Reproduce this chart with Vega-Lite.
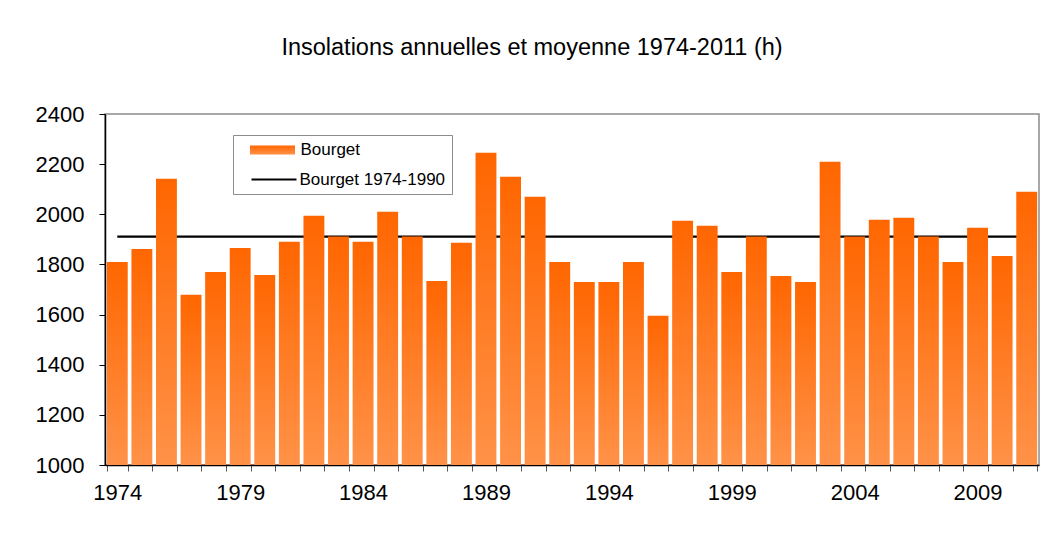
{
  "$schema": "https://vega.github.io/schema/vega-lite/v6.json",
  "width": 934,
  "height": 351,
  "autosize": "none",
  "padding": {"left": 105, "top": 114, "right": 14, "bottom": 69},
  "background": "white",
  "title": {
    "text": "Insolations annuelles et moyenne 1974-2011 (h)",
    "font": "Liberation Sans",
    "fontSize": 23.5,
    "fontWeight": "normal",
    "color": "black",
    "anchor": "middle",
    "dx": -40,
    "offset": 44
  },
  "config": {
    "view": {"stroke": "#8c8c8c", "strokeWidth": 1.5},
    "font": "Liberation Sans"
  },
  "data": {
    "values": [
      {"annee": 1974, "insolation": 1810, "moyenne": 1911},
      {"annee": 1975, "insolation": 1862, "moyenne": 1911},
      {"annee": 1976, "insolation": 2142, "moyenne": 1911},
      {"annee": 1977, "insolation": 1679, "moyenne": 1911},
      {"annee": 1978, "insolation": 1770, "moyenne": 1911},
      {"annee": 1979, "insolation": 1866, "moyenne": 1911},
      {"annee": 1980, "insolation": 1758, "moyenne": 1911},
      {"annee": 1981, "insolation": 1890, "moyenne": 1911},
      {"annee": 1982, "insolation": 1994, "moyenne": 1911},
      {"annee": 1983, "insolation": 1911, "moyenne": 1911},
      {"annee": 1984, "insolation": 1890, "moyenne": 1911},
      {"annee": 1985, "insolation": 2010, "moyenne": 1911},
      {"annee": 1986, "insolation": 1911, "moyenne": 1911},
      {"annee": 1987, "insolation": 1734, "moyenne": 1911},
      {"annee": 1988, "insolation": 1886, "moyenne": 1911},
      {"annee": 1989, "insolation": 2245, "moyenne": 1911},
      {"annee": 1990, "insolation": 2150, "moyenne": 1911},
      {"annee": 1991, "insolation": 2070, "moyenne": 1911},
      {"annee": 1992, "insolation": 1810, "moyenne": 1911},
      {"annee": 1993, "insolation": 1730, "moyenne": 1911},
      {"annee": 1994, "insolation": 1730, "moyenne": 1911},
      {"annee": 1995, "insolation": 1810, "moyenne": 1911},
      {"annee": 1996, "insolation": 1595, "moyenne": 1911},
      {"annee": 1997, "insolation": 1974, "moyenne": 1911},
      {"annee": 1998, "insolation": 1954, "moyenne": 1911},
      {"annee": 1999, "insolation": 1770, "moyenne": 1911},
      {"annee": 2000, "insolation": 1911, "moyenne": 1911},
      {"annee": 2001, "insolation": 1754, "moyenne": 1911},
      {"annee": 2002, "insolation": 1730, "moyenne": 1911},
      {"annee": 2003, "insolation": 2210, "moyenne": 1911},
      {"annee": 2004, "insolation": 1911, "moyenne": 1911},
      {"annee": 2005, "insolation": 1978, "moyenne": 1911},
      {"annee": 2006, "insolation": 1986, "moyenne": 1911},
      {"annee": 2007, "insolation": 1911, "moyenne": 1911},
      {"annee": 2008, "insolation": 1810, "moyenne": 1911},
      {"annee": 2009, "insolation": 1946, "moyenne": 1911},
      {"annee": 2010, "insolation": 1834, "moyenne": 1911},
      {"annee": 2011, "insolation": 2090, "moyenne": 1911}
    ]
  },
  "encoding": {
    "x": {
      "field": "annee",
      "type": "ordinal",
      "scale": {"paddingInner": 0.15, "paddingOuter": 0.075},
      "axis": {
        "title": null,
        "tickBand": "extent",
        "labelExpr": "(datum.value - 1974) % 5 === 0 ? datum.label : ''",
        "labelAngle": 0,
        "labelOverlap": false,
        "labelFont": "Liberation Sans",
        "labelFontSize": 22,
        "labelColor": "black",
        "labelPadding": 11,
        "domainColor": "black",
        "domainWidth": 1.5,
        "tickColor": "#555555",
        "tickSize": 6,
        "grid": false
      }
    }
  },
  "layer": [
    {
      "mark": {
        "type": "line",
        "strokeWidth": 2.2
      },
      "encoding": {
        "y": {"field": "moyenne", "type": "quantitative", "scale": {"domain": [1000, 2400], "zero": false, "nice": false}},
        "color": {
          "datum": "Bourget 1974-1990",
          "type": "nominal",
          "scale": {"range": ["black"]},
          "legend": {
            "title": "\u00a0\u00a0\u00a0\u00a0\u00a0\u00a0\u00a0\u00a0\u00a0\u00a0\u00a0\u00a0\u00a0\u00a0\u00a0\u00a0\u00a0\u00a0\u00a0\u00a0\u00a0\u00a0\u00a0\u00a0\u00a0\u00a0\u00a0\u00a0\u00a0\u00a0\u00a0\u00a0\u00a0\u00a0\u00a0\u00a0\u00a0\u00a0\u00a0\u00a0\u00a0\u00a0\u00a0\u00a0\u00a0\u00a0\u00a0\u00a0\u00a0\u00a0\u00a0\u00a0",
            "titleFontSize": 15,
            "titleFont": "Liberation Sans",
            "titlePadding": 12,
            "titleLimit": 400,
            "orient": "none",
            "legendX": 128,
            "legendY": 21,
            "direction": "vertical",
            "strokeColor": "#8c8c8c",
            "padding": 6,
            "symbolType": "M-2.25,0H2.25",
            "symbolSize": 400,
            "symbolOffset": 23.5,
            "symbolStrokeWidth": 2.2,
            "symbolStrokeColor": "black",
            "labelFont": "Liberation Sans",
            "labelFontSize": 17,
            "labelColor": "black",
            "labelOffset": 14
          }
        }
      }
    },
    {
      "mark": {
        "type": "bar",
        "strokeWidth": 0,
        "fill": {"gradient": "linear", "x1": 0, "y1": 0, "x2": 0, "y2": 1,
                 "stops": [{"offset": 0, "color": "#ff6600"}, {"offset": 1, "color": "#ff9248"}]}
      },
      "encoding": {
        "y": {
          "field": "insolation",
          "type": "quantitative",
          "axis": {
            "title": null,
            "format": "d",
            "values": [1000, 1200, 1400, 1600, 1800, 2000, 2200, 2400],
            "labelFont": "Liberation Sans",
            "labelFontSize": 22,
            "labelColor": "black",
            "labelPadding": 15,
            "domainColor": "black",
            "domainWidth": 1.5,
            "tickColor": "black",
            "tickSize": 6,
            "grid": false
          }
        },
        "y2": {"datum": 1000},
        "stroke": {
          "datum": "Bourget",
          "type": "nominal",
          "scale": {"range": ["#ff6600"]},
          "legend": {
            "title": null,
            "orient": "none",
            "legendX": 128,
            "legendY": 21,
            "direction": "vertical",
            "padding": 5,
            "symbolType": "M-2.25,-0.45H2.25V0.45H-2.25Z",
            "symbolSize": 400,
            "symbolOffset": 24.5,
            "symbolStrokeWidth": 0,
            "labelFont": "Liberation Sans",
            "labelFontSize": 17,
            "labelColor": "black",
            "labelOffset": 18
          }
        }
      }
    }
  ]
}
